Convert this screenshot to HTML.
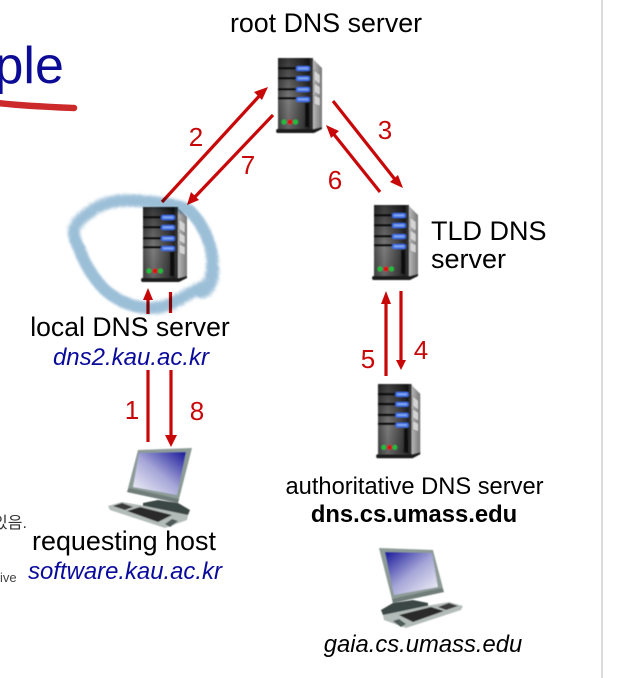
<!DOCTYPE html>
<html>
<head>
<meta charset="utf-8">
<style>
html,body{margin:0;padding:0;background:#fff;}
body{width:640px;height:678px;overflow:hidden;}
svg{display:block;}
text{font-family:"Liberation Sans","Noto Sans CJK KR",sans-serif;}
</style>
</head>
<body>
<svg width="640" height="678" viewBox="0 0 640 678" xmlns="http://www.w3.org/2000/svg">
<defs>
<linearGradient id="body" x1="0" x2="1" y1="0" y2="0">
<stop offset="0" stop-color="#4c4c4c"/><stop offset=".3" stop-color="#7c7c7c"/><stop offset=".7" stop-color="#4a4a4a"/><stop offset="1" stop-color="#1c1c1c"/>
</linearGradient>
<linearGradient id="shade" x1="0" x2="0" y1="0" y2="1">
<stop offset="0" stop-color="#000" stop-opacity=".55"/><stop offset=".6" stop-color="#000" stop-opacity="0"/><stop offset="1" stop-color="#000" stop-opacity=".2"/>
</linearGradient>
<linearGradient id="side" x1="0" x2="1" y1="0" y2="0">
<stop offset="0" stop-color="#c0c0c0"/><stop offset="1" stop-color="#777"/>
</linearGradient>
<linearGradient id="screen" x1="1" x2="0" y1="0" y2="1">
<stop offset="0" stop-color="#18189a"/><stop offset=".5" stop-color="#a6a6d8"/><stop offset="1" stop-color="#f6f6fa"/>
</linearGradient>
<filter id="chalk" x="-10%" y="-10%" width="120%" height="120%">
<feTurbulence type="fractalNoise" baseFrequency="1.1" numOctaves="2" seed="3" result="n"/>
<feDisplacementMap in="SourceGraphic" in2="n" scale="9" result="d"/>
<feGaussianBlur in="d" stdDeviation="1.100"/>
</filter>
<filter id="soft" x="-10%" y="-10%" width="120%" height="120%"><feGaussianBlur stdDeviation=".5"/></filter>
<g id="server">
<path d="M34 0 L44 10 L44 71 L34 75Z" fill="url(#side)"/>
<path d="M36 12l6 5v9l-6-4zM36 25l6 4v8l-6-3zM36 37l6 3v8l-6-2z" fill="#d4d4d4" stroke="#777" stroke-width=".5"/>
<rect x="0" y="0" width="34" height="71" fill="url(#body)"/>
<rect x="0" y="0" width="34" height="71" fill="url(#shade)"/>
<rect x="32" y="0" width="3" height="73" fill="#333"/>
<rect x="0" y="9" width="32" height="2.500" fill="#0a0a0a"/>
<rect x="0" y="19" width="32" height="2.500" fill="#0a0a0a"/>
<rect x="0" y="30" width="32" height="2.500" fill="#0a0a0a"/>
<rect x="0" y="39" width="32" height="2.500" fill="#0a0a0a"/>
<rect x="18" y="8" width="14" height="5" rx="2" fill="#3f6fe6"/>
<rect x="18" y="18" width="14" height="5" rx="2" fill="#3f6fe6"/>
<rect x="18" y="29" width="14" height="5" rx="2" fill="#3f6fe6"/>
<rect x="18" y="39" width="14" height="5" rx="2" fill="#3f6fe6"/>
<rect x="20" y="9.500" width="10" height="1.800" fill="#86aaf0"/>
<rect x="20" y="19.500" width="10" height="1.800" fill="#86aaf0"/>
<rect x="20" y="30.500" width="10" height="1.800" fill="#86aaf0"/>
<rect x="20" y="40.500" width="10" height="1.800" fill="#86aaf0"/>
<rect x="27" y="45" width="4" height="24" fill="#0e0e0e"/>
<circle cx="6" cy="64" r="2.500" fill="#1fc13a"/>
<circle cx="12" cy="64" r="2.500" fill="#e01010"/>
<circle cx="17.500" cy="64" r="2.500" fill="#1fc13a"/>
<path d="M-1 71 H36 L44 69 V71 L36 75 H-1 Q-3 73 -1 71Z" fill="#1e1e1e"/>
</g>
<g id="host">
<path d="M143 503 L158 500 L178 503 L190 510 L188 515 L160 513 L143 507Z" fill="#3b4644"/>
<path d="M138 450 L192 448 L178 503 L127 492Z" fill="#8d9b97"/>
<path d="M127 492 L178 503 L179 499 L129 488Z" fill="#6f7d79"/>
<path d="M139 453 L186 452 L177 495 L133 487Z" fill="url(#screen)"/>
<path d="M108 506 L122 502 L145 506 L188 515 L187 520 L165 528 L110 510Z" fill="#b4bcb9"/>
<path d="M113 506 L122 503 L133 507 L125 510Z" fill="#3a3a3a"/>
<path d="M127 511 L140 507 L172 515 L158 522Z" fill="#2c2c2c"/>
<path d="M165 524 L172 519 L178 521 L170 527Z" fill="#4d5a58"/>
</g>
</defs>

<rect x="601" y="0" width="2" height="678" fill="#dcdcdc"/>

<!-- title fragment -->
<text x="-5.500" y="83" font-size="52" fill="#0b0b96">ple</text>
<path d="M-2 103 C25 106 50 107 74 108" fill="none" stroke="#cc2a2a" stroke-width="6.500" stroke-linecap="round"/>

<!-- servers -->
<g filter="url(#soft)">
<use href="#server" x="278" y="58"/>
<use href="#server" x="143" y="207"/>
<use href="#server" x="374" y="205"/>
<g transform="translate(378 384) scale(.96 .99)"><use href="#server"/></g>
</g>

<!-- hosts -->
<g filter="url(#soft)">
<use href="#host"/>
<g transform="translate(571 100) scale(-1 1)"><use href="#host"/></g>
</g>

<!-- arrows -->
<g stroke="#c80808" stroke-width="3.200" fill="none">
<path d="M162 202 L262 93"/>
<path d="M273 115 L193 199"/>
<path d="M333 101 L397 182"/>
<path d="M380 192 L332 132"/>
<path d="M386 376 V298"/>
<path d="M401 291 V362"/>
<path d="M148 314 V296"/>
<path d="M170.500 292 V313"/>
<path d="M148 370 V442"/>
<path d="M171 370 V437"/>
</g>
<g fill="#c80808">
<path d="M268 87 L262 100 L254 92Z"/>
<path d="M187 205 L191 192 L199 200Z"/>
<path d="M403 188 L390 182 L398 175Z"/>
<path d="M326 125 L339 131 L331 138Z"/>
<path d="M386 291 L391 304 L381 304Z"/>
<path d="M401 370 L396 360 L406 360Z"/>
<path d="M148 288 L153 300 L143 300Z"/>
<path d="M171 447 L165 435 L177 435Z"/>
</g>

<!-- scribble -->
<path d="M189 210 C180 206 170 204 160 203 C145 201 130 200 117 201 C105 203 96 207 90 212 C81 218 75 224 74 231 C74 238 76 243 80 250 C84 262 92 276 103 288 C114 299 132 308 150 308 C160 308 170 305 178 300 C186 296 196 289 204 287 C208 284 212 278 212 268 C213 258 212 250 208 240 C204 229 198 219 189 210 M201 292 C207 292 213 284 213 268" fill="none" stroke="#9cbfd8" stroke-width="12" stroke-linejoin="round" stroke-linecap="round" filter="url(#chalk)" style="mix-blend-mode:multiply"/>

<!-- labels -->
<g fill="#000">
<text x="326" y="32" font-size="26.800" text-anchor="middle">root DNS server</text>
<text x="431" y="240" font-size="27">TLD DNS</text>
<text x="431" y="268" font-size="27">server</text>
<text x="130" y="336" font-size="26.600" text-anchor="middle">local DNS server</text>
<text x="124" y="550" font-size="26.900" text-anchor="middle">requesting host</text>
<text x="414.500" y="494" font-size="23.700" text-anchor="middle">authoritative DNS server</text>
<text x="414" y="522" font-size="23.800" font-weight="bold" text-anchor="middle">dns.cs.umass.edu</text>
<text x="423" y="652" font-size="23.800" font-style="italic" text-anchor="middle">gaia.cs.umass.edu</text>
</g>
<g fill="#0a0a9c" font-style="italic">
<text x="131" y="365" font-size="24" text-anchor="middle">dns2.kau.ac.kr</text>
<text x="125" y="579" font-size="23.900" text-anchor="middle">software.kau.ac.kr</text>
</g>
<g fill="#c80808" font-size="26">
<text x="196" y="146" text-anchor="middle">2</text>
<text x="248" y="174" text-anchor="middle">7</text>
<text x="385" y="139" text-anchor="middle">3</text>
<text x="335" y="189" text-anchor="middle">6</text>
<text x="421" y="359" text-anchor="middle">4</text>
<text x="368" y="368" text-anchor="middle">5</text>
<text x="132" y="419" text-anchor="middle">1</text>
<text x="197" y="420" text-anchor="middle">8</text>
</g>
<text x="-7" y="528" font-size="16" fill="#333">있음.</text>
<text x="0" y="582" font-size="13" fill="#444">ive</text>
</svg>
</body>
</html>
